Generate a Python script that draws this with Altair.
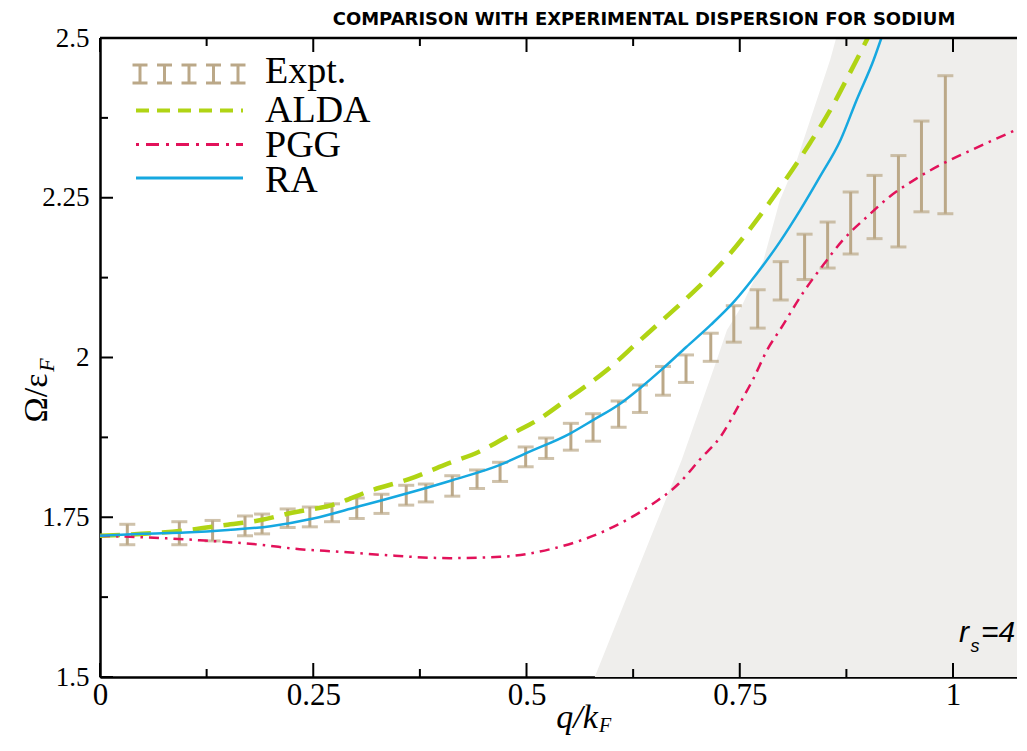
import altair as alt
import pandas as pd

# ---------------- data ----------------
expt_q = [0.032, 0.093, 0.132, 0.170, 0.190, 0.220, 0.246, 0.272, 0.301, 0.330, 0.359, 0.382,
          0.413, 0.442, 0.469, 0.499, 0.523, 0.552, 0.578, 0.608, 0.633, 0.660, 0.687, 0.716,
          0.743, 0.771, 0.798, 0.826, 0.853, 0.880, 0.908, 0.936, 0.963, 0.991]
expt_hi = [1.739, 1.743, 1.745, 1.752, 1.755, 1.763, 1.766, 1.771, 1.780, 1.786, 1.800, 1.802,
           1.815, 1.824, 1.836, 1.860, 1.874, 1.897, 1.912, 1.932, 1.957, 1.986, 2.004, 2.038,
           2.081, 2.106, 2.150, 2.193, 2.212, 2.259, 2.285, 2.316, 2.370, 2.441]
expt_lo = [1.707, 1.707, 1.713, 1.721, 1.724, 1.734, 1.735, 1.743, 1.748, 1.756, 1.769, 1.774,
           1.783, 1.795, 1.806, 1.829, 1.842, 1.855, 1.869, 1.891, 1.914, 1.941, 1.961, 1.994,
           2.024, 2.046, 2.090, 2.122, 2.140, 2.162, 2.186, 2.173, 2.228, 2.225]

ra_q = [0.0, 0.05, 0.10, 0.15, 0.20, 0.25, 0.301, 0.413, 0.469, 0.499, 0.551, 0.578,
        0.608, 0.633, 0.660, 0.687, 0.716, 0.743, 0.771, 0.797, 0.821, 0.844, 0.868, 0.887,
        0.907, 0.916]
ra_v = [1.721, 1.724, 1.726, 1.730, 1.736, 1.748, 1.766, 1.808, 1.832, 1.850, 1.881,
        1.902, 1.926, 1.952, 1.983, 2.016, 2.051, 2.087, 2.133, 2.181, 2.231, 2.283, 2.340,
        2.403, 2.466, 2.500]

alda_q = [0.0, 0.061, 0.103, 0.147, 0.190, 0.225, 0.272, 0.320, 0.363, 0.404, 0.445, 0.485,
          0.514, 0.549, 0.594, 0.629, 0.664, 0.696, 0.727, 0.801, 0.832, 0.856, 0.879, 0.900]
alda_v = [1.721, 1.725, 1.730, 1.738, 1.746, 1.757, 1.769, 1.793, 1.810, 1.832, 1.853, 1.882,
          1.903, 1.936, 1.980, 2.022, 2.064, 2.103, 2.145, 2.273, 2.335, 2.387, 2.445, 2.500]

pgg_q = [0.0, 0.078, 0.117, 0.188, 0.234, 0.281, 0.332, 0.410, 0.469, 0.528, 0.594, 0.649,
         0.678, 0.703, 0.729, 0.748, 0.766, 0.783, 0.797, 0.825, 0.848, 0.871, 0.899, 0.926,
         0.957, 0.989, 1.024, 1.077]
pgg_v = [1.721, 1.717, 1.714, 1.707, 1.700, 1.696, 1.691, 1.686, 1.688, 1.700, 1.730, 1.772,
         1.802, 1.840, 1.879, 1.923, 1.967, 2.014, 2.043, 2.103, 2.145, 2.184, 2.220, 2.252,
         2.280, 2.304, 2.326, 2.358]

# left edge of the particle-hole continuum (shaded to the right of it)
cont_q = [0.580, 0.649, 0.682, 0.723, 0.735, 0.752, 0.778, 0.797, 0.817, 0.856, 0.863]
cont_v = [1.500, 1.730, 1.840, 1.996, 2.043, 2.080, 2.153, 2.246, 2.309, 2.466, 2.500]

x_major = [0, 0.25, 0.5, 0.75, 1]
x_minor = [0.125, 0.375, 0.625, 0.875]
y_major = [1.5, 1.75, 2, 2.25, 2.5]
y_minor = [1.625, 1.875, 2.125, 2.375]

series_names = ["Expt.", "ALDA", "PGG", "RA"]
title_text = "COMPARISON WITH EXPERIMENTAL DISPERSION FOR SODIUM"

# ---------------- styling ----------------
TAN = "#bba888"
GREEN = "#b0d414"
RED = "#e2125a"
BLUE = "#16a8e0"
SHADE = "#efeeec"
SERIF = "Liberation Serif"

W, H = 917, 639
XMAX = 1.075
xs = alt.Scale(domain=[0, XMAX], nice=False, zero=False)
ys = alt.Scale(domain=[1.5, 2.5], nice=False, zero=False)
one = pd.DataFrame({"a": [0]})

# shaded continuum, carries the axes
cont_df = pd.DataFrame({"q": cont_q, "v": cont_v})
cont_df["qr"] = XMAX
shade = alt.Chart(cont_df).mark_area(
    orient="horizontal", color=SHADE, clip=True
).encode(
    y=alt.Y("v:Q", scale=ys, axis=alt.Axis(
        values=y_major, labelExpr="'' + datum.value", ticks=False, grid=False, title=None,
        labelFont=SERIF, labelFontSize=27, labelColor="black", labelPadding=11,
        domainColor="black", domainWidth=2.5, labelFlush=False, labelOverlap=False)),
    x=alt.X("q:Q", scale=xs, axis=alt.Axis(
        values=x_major, labelExpr="'' + datum.value", ticks=False, grid=False, title=None,
        labelFont=SERIF, labelFontSize=31, labelColor="black", labelPadding=3,
        domainColor="black", domainWidth=2.5, labelFlush=False, labelOverlap=False)),
    x2="qr:Q",
)

ex = pd.DataFrame({"q": expt_q, "lo": expt_lo, "hi": expt_hi})
bars = alt.Chart(ex).mark_rule(color=TAN, strokeWidth=3).encode(
    x=alt.X("q:Q", scale=xs), y=alt.Y("lo:Q", scale=ys), y2="hi:Q")
cap_lo = alt.Chart(ex).mark_tick(color=TAN, orient="horizontal", size=16, thickness=3).encode(
    x=alt.X("q:Q", scale=xs), y=alt.Y("lo:Q", scale=ys))
cap_hi = alt.Chart(ex).mark_tick(color=TAN, orient="horizontal", size=16, thickness=3).encode(
    x=alt.X("q:Q", scale=xs), y=alt.Y("hi:Q", scale=ys))


def curve(q, v, color, width, dash=None):
    kw = dict(color=color, strokeWidth=width, clip=True, interpolate="monotone")
    if dash:
        kw["strokeDash"] = dash
    return alt.Chart(pd.DataFrame({"q": q, "v": v})).mark_line(**kw).encode(
        x=alt.X("q:Q", scale=xs), y=alt.Y("v:Q", scale=ys), order="q:Q")


alda = curve(alda_q, alda_v, GREEN, 4.5, [20, 11])
pgg = curve(pgg_q, pgg_v, RED, 2.5, [10, 6, 2.5, 6])
ra = curve(ra_q, ra_v, BLUE, 2.5)


# axis ticks (inward) and top frame
def xticks(vals, y0, y1):
    return alt.Chart(pd.DataFrame({"t": vals})).mark_rule(color="black", strokeWidth=2).encode(
        x=alt.X("t:Q", scale=xs), y=alt.value(y0), y2=alt.value(y1))


def yticks(vals, x1):
    return alt.Chart(pd.DataFrame({"t": vals})).mark_rule(color="black", strokeWidth=2).encode(
        y=alt.Y("t:Q", scale=ys), x=alt.value(0), x2=alt.value(x1))


ticks = [xticks(x_major, H, H - 14), xticks(x_minor, H, H - 8),
         xticks(x_major, 0, 14), xticks(x_minor, 0, 8),
         yticks(y_major, 13), yticks(y_minor, 8)]
frame_top = alt.Chart(one).mark_rule(color="black", strokeWidth=2.5).encode(
    x=alt.value(0), x2=alt.value(W), y=alt.value(0))


def text(s, x, y, size, font=SERIF, style="normal", align="left", baseline="alphabetic",
         angle=0, weight="normal", color="black"):
    return alt.Chart(one).mark_text(
        text=s, font=font, fontSize=size, fontStyle=style, align=align, baseline=baseline,
        angle=angle, fontWeight=weight, color=color).encode(x=alt.value(x), y=alt.value(y))


# legend
LEG_X0, LEG_STEP = 40, 24.5
leg_df = pd.DataFrame({"c": [LEG_X0 + i * LEG_STEP for i in range(5)]})
leg_df["l"] = leg_df["c"] - 7.5
leg_df["r"] = leg_df["c"] + 7.5
leg_stem = alt.Chart(leg_df).mark_rule(color=TAN, strokeWidth=3).encode(
    x=alt.X("c:Q", scale=None), y=alt.value(27), y2=alt.value(45))
leg_cap1 = alt.Chart(leg_df).mark_rule(color=TAN, strokeWidth=3).encode(
    x=alt.X("l:Q", scale=None), x2="r:Q", y=alt.value(27))
leg_cap2 = alt.Chart(leg_df).mark_rule(color=TAN, strokeWidth=3).encode(
    x=alt.X("l:Q", scale=None), x2="r:Q", y=alt.value(45))
leg_alda = alt.Chart(one).mark_rule(color=GREEN, strokeWidth=4, strokeDash=[13, 8]).encode(
    x=alt.value(36), x2=alt.value(143), y=alt.value(72.5))
leg_pgg = alt.Chart(one).mark_rule(color=RED, strokeWidth=3, strokeDash=[3, 7, 13, 7]).encode(
    x=alt.value(36), x2=alt.value(143), y=alt.value(106.5))
leg_ra = alt.Chart(one).mark_rule(color=BLUE, strokeWidth=3).encode(
    x=alt.value(36), x2=alt.value(143), y=alt.value(140))
LEG_FS = 38
leg_texts = [text(series_names[0], 165, 45, LEG_FS), text(series_names[1], 165, 84, LEG_FS),
             text(series_names[2], 165, 119, LEG_FS), text(series_names[3], 165, 154, LEG_FS)]

# titles and annotations
title = text(title_text, 544, -13, 18, font="DejaVu Sans", weight="bold", align="center")
ytitle = text("Ω/ε", -63, 360, 34, align="center", baseline="middle", angle=270)
ytitle_sub = text("F", -53, 327, 22, style="italic", align="center", baseline="middle", angle=270)
xtitle = text("q/k", 477, 690, 34, style="italic", align="center")
xtitle_sub = text("F", 505, 694, 20, style="italic", align="center")
SANS = "Liberation Sans"
rs_r = text("r", 864, 604, 30, font=SANS, style="italic", align="center")
rs_s = text("s", 875, 614, 18, font=SANS, style="italic", align="center")
rs_eq = text("=4", 881, 604, 30, font=SANS, style="italic", align="left")

chart = alt.layer(
    shade, bars, cap_lo, cap_hi, alda, pgg, ra, *ticks, frame_top,
    leg_stem, leg_cap1, leg_cap2, leg_alda, leg_pgg, leg_ra, *leg_texts,
    title, ytitle, ytitle_sub, xtitle, xtitle_sub, rs_r, rs_s, rs_eq,
).properties(
    width=W, height=H,
    autosize=alt.AutoSizeParams(type="none"),
    padding={"left": 92, "top": 30, "right": 0, "bottom": 60},
    background="white",
).configure_view(stroke=None)

chart.save("out.html", embed_options={"renderer": "svg", "actions": False})
